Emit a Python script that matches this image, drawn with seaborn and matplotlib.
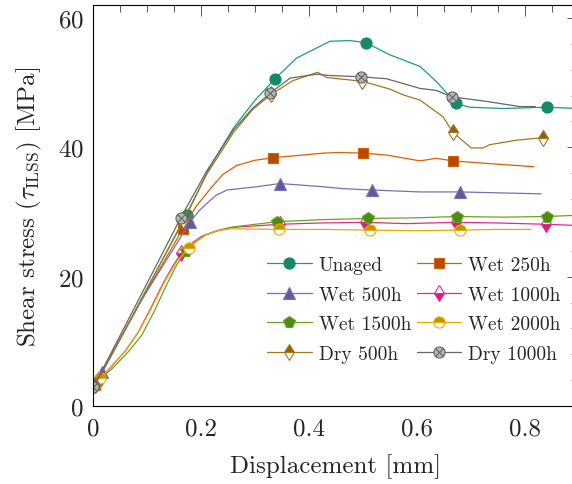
import seaborn as sns
import matplotlib.pyplot as plt
from matplotlib.lines import Line2D
from matplotlib.path import Path
from matplotlib.ticker import MultipleLocator

sns.set_theme(style="white")
plt.rcParams['font.family'] = ['cmr10', 'DejaVu Serif']
plt.rcParams['mathtext.fontset'] = 'cm'
plt.rcParams['axes.formatter.use_mathtext'] = True

# data (displacement in mm, stress in MPa)
unaged_x = [0.005, 0.05, 0.1, 0.173, 0.215, 0.26, 0.3, 0.337, 0.377, 0.42, 0.439, 0.476,
            0.505, 0.55, 0.606, 0.636, 0.664, 0.673, 0.698, 0.76, 0.841, 0.9]
unaged_y = [3.5, 10.4, 18.3, 29.5, 36.8, 43.0, 47.3, 50.6, 53.8, 55.6, 56.4, 56.5,
            56.2, 54.3, 52.5, 50.2, 47.6, 46.8, 46.2, 46.0, 46.2, 46.0]
unaged_mk = [0, 3, 7, 12, 17, 20]

wet250_x = [0.003, 0.08, 0.166, 0.19, 0.217, 0.24, 0.266, 0.3, 0.334, 0.427, 0.451, 0.5,
            0.544, 0.606, 0.636, 0.667, 0.748, 0.817]
wet250_y = [3.2, 15.0, 27.4, 30.8, 33.6, 35.8, 37.2, 38.0, 38.4, 39.1, 39.2, 39.1,
            38.8, 37.9, 38.3, 37.9, 37.4, 37.0]
wet250_mk = [0, 2, 8, 11, 15]

wet500_x = [0.016, 0.09, 0.18, 0.195, 0.21, 0.228, 0.248, 0.303, 0.346, 0.427, 0.464,
            0.516, 0.606, 0.681, 0.831]
wet500_y = [5.3, 16.5, 28.5, 30.1, 31.3, 32.6, 33.4, 33.9, 34.4, 33.9, 33.6,
            33.4, 33.1, 33.1, 32.8]
wet500_mk = [0, 2, 8, 11, 13]

wet1000_x = [0.008, 0.03, 0.06, 0.083, 0.105, 0.13, 0.15, 0.163, 0.18, 0.2, 0.225,
             0.254, 0.346, 0.42, 0.504, 0.58, 0.673, 0.75, 0.84, 0.9]
wet1000_y = [4.0, 5.8, 8.6, 11.4, 14.9, 19.1, 22.0, 23.6, 25.0, 26.2, 27.0,
             27.6, 28.1, 28.3, 28.4, 28.2, 28.4, 28.3, 28.1, 27.9]
wet1000_mk = [0, 7, 12, 14, 16, 18]

wet1500_x = [0.01, 0.035, 0.065, 0.09, 0.112, 0.135, 0.155, 0.172, 0.19, 0.21, 0.235,
             0.26, 0.341, 0.42, 0.509, 0.6, 0.675, 0.76, 0.841, 0.9]
wet1500_y = [4.0, 5.8, 8.4, 11.0, 14.5, 18.6, 21.9, 23.9, 25.4, 26.5, 27.2,
             27.7, 28.5, 28.8, 29.0, 29.1, 29.3, 29.2, 29.3, 29.5]
wet1500_mk = [0, 7, 12, 14, 16, 18]

wet2000_x = [0.013, 0.033, 0.062, 0.085, 0.108, 0.132, 0.155, 0.177, 0.193, 0.21, 0.23,
             0.254, 0.344, 0.43, 0.513, 0.6, 0.68, 0.75, 0.812]
wet2000_y = [4.3, 6.0, 8.8, 11.6, 15.2, 19.2, 22.4, 24.4, 25.6, 26.5, 27.1,
             27.4, 27.3, 27.3, 27.2, 27.1, 27.2, 27.3, 27.3]
wet2000_mk = [0, 7, 12, 14, 16]

dry500_x = [0.003, 0.085, 0.167, 0.21, 0.26, 0.295, 0.33, 0.37, 0.416, 0.433, 0.499,
            0.55, 0.575, 0.606, 0.649, 0.667, 0.701, 0.723, 0.735, 0.785, 0.835]
dry500_y = [3.3, 15.8, 28.8, 35.8, 42.3, 45.8, 48.2, 50.3, 51.6, 50.8, 50.2,
            49.0, 48.1, 47.3, 44.7, 42.3, 39.9, 39.9, 40.4, 41.1, 41.5]
dry500_mk = [0, 2, 6, 10, 15, 20]

dry1000_x = [0.0, 0.083, 0.162, 0.21, 0.26, 0.295, 0.328, 0.365, 0.414, 0.439, 0.497,
             0.544, 0.606, 0.636, 0.665, 0.729, 0.791, 0.82]
dry1000_y = [2.9, 16.3, 29.1, 36.3, 42.7, 46.0, 48.4, 50.7, 51.3, 51.1, 50.9,
             50.6, 49.1, 48.8, 47.8, 47.1, 46.3, 46.3]
dry1000_mk = [0, 2, 6, 10, 14]

labels = ['Unaged', 'Wet 250h', 'Wet 500h', 'Wet 1000h',
          'Wet 1500h', 'Wet 2000h', 'Dry 500h', 'Dry 1000h']
series = [(unaged_x, unaged_y, unaged_mk), (wet250_x, wet250_y, wet250_mk),
          (wet500_x, wet500_y, wet500_mk), (wet1000_x, wet1000_y, wet1000_mk),
          (wet1500_x, wet1500_y, wet1500_mk), (wet2000_x, wet2000_y, wet2000_mk),
          (dry500_x, dry500_y, dry500_mk), (dry1000_x, dry1000_y, dry1000_mk)]

# circle with a cross (otimes)
otimes = Path.make_compound_path(Path.unit_circle(),
                                 Path([[-0.7, -0.7], [0.7, 0.7]]),
                                 Path([[-0.7, 0.7], [0.7, -0.7]]))

styles = [
    dict(color='#1b9e77', marker='o', ms=8, mfc='#168a66', mec='#168a66'),
    dict(color='#d95f02', marker='s', ms=7.3, mfc='#b04d02', mec='#d95f02'),
    dict(color='#7570b3', marker='^', ms=8, mfc='#5e5a9c', mec='#7570b3'),
    dict(color='#e7298a', marker='d', ms=8, mfc='#d0207a', mec='#e7298a',
         fillstyle='bottom', markerfacecoloralt='white'),
    dict(color='#66a61e', marker='p', ms=8.5, mfc='#4d8a16', mec='#66a61e'),
    dict(color='#e6ab02', marker='o', ms=8, mfc='#c69200', mec='#e6ab02',
         fillstyle='top', markerfacecoloralt='white'),
    dict(color='#a6761d', marker='d', ms=8, mfc='#8c6316', mec='#a6761d',
         fillstyle='top', markerfacecoloralt='white'),
    dict(color='#666666', marker=otimes, ms=8, mfc='#b5b5b5', mec='#666666'),
]

fig = plt.figure(figsize=(5.72, 4.85), dpi=100)
ax = fig.add_axes([0.1633, 0.1608, 0.848, 0.8268])

handles = []
for (xs, ys, mk), st, lab in zip(series, styles, labels):
    sns.lineplot(x=xs, y=ys, ax=ax, sort=False, estimator=None, lw=0.9,
                 markevery=mk, markeredgewidth=0.8, **st)
    handles.append(Line2D([], [], lw=0.9, markeredgewidth=0.8, **st))

ax.set_xlim(0, 0.9)
ax.set_ylim(0, 62)
ax.xaxis.set_major_locator(MultipleLocator(0.2))
ax.xaxis.set_minor_locator(MultipleLocator(0.05))
ax.yaxis.set_major_locator(MultipleLocator(20))
ax.yaxis.set_minor_locator(MultipleLocator(4))
ax.set_xticks([0, 0.2, 0.4, 0.6, 0.8])
ax.set_xticklabels(['0', '0.2', '0.4', '0.6', '0.8'])
ax.tick_params(which='both', direction='in', top=True, right=True,
               labelsize=18, color='0.35', width=0.7)
ax.tick_params(which='major', length=7.8)
ax.tick_params(which='minor', length=5.2)
ax.tick_params(axis='x', pad=8)
ax.tick_params(axis='y', pad=7)
for sp in ax.spines.values():
    sp.set_color('black')
    sp.set_linewidth(0.8)

ax.set_xlabel('Displacement [mm]', fontsize=18, labelpad=10)
ax.set_ylabel(r'Shear stress ($\tau_{\rm ILSS}$) [MPa]', fontsize=18, labelpad=10)

# legend is filled row by row in the reference
order = [0, 2, 4, 6, 1, 3, 5, 7]
ax.legend([handles[i] for i in order], [labels[i] for i in order], ncol=2,
          loc='upper left', bbox_to_anchor=(267 / 572, 1 - 257 / 485),
          bbox_transform=fig.transFigure, frameon=False, fontsize=14,
          handlelength=2.3, handletextpad=0.35, columnspacing=0.3,
          labelspacing=0.6, borderpad=0, borderaxespad=0)

fig.savefig('out.png', dpi=100)
